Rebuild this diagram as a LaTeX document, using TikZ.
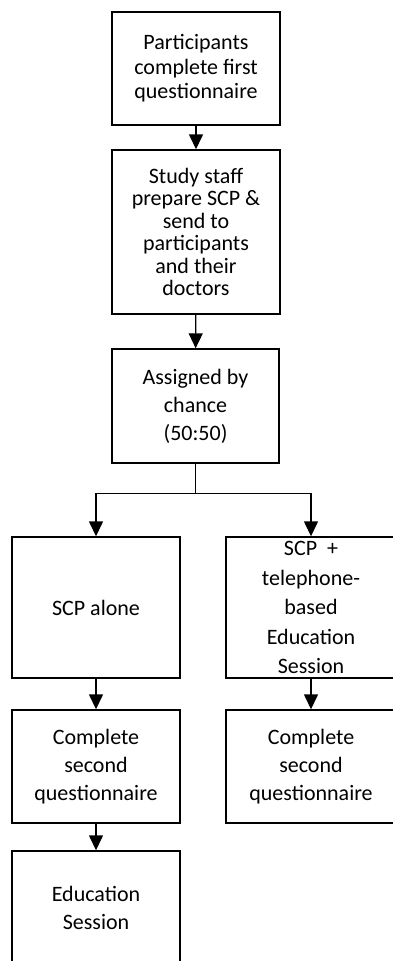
\documentclass[tikz,border=0pt]{standalone}
\usepackage{fontspec}
\setmainfont{Carlito}
\usetikzlibrary{arrows.meta}

\tikzset{
  box/.style={draw, line width=1.4pt, rectangle, align=center, inner sep=0pt,
    minimum width=168pt, font=\fontsize{22}{28}\selectfont},
  arr/.style={line width=1.4pt, -{Triangle[width=14pt,length=15pt]}}
}

\begin{document}
\begin{tikzpicture}[x=1pt,y=-1pt]
            % 画布范围
            \useasboundingbox (0,0) rectangle (392,961);

            % 定义点
            \coordinate (P1) at (196,68.5);
            \coordinate (P2) at (196,232);
            \coordinate (P3) at (195.5,406);
            \coordinate (P4) at (96,607.5);
            \coordinate (P5) at (311,607.5);
            \coordinate (P6) at (96,766.5);
            \coordinate (P7) at (311,766.5);
            \coordinate (P8) at (96,908);

            % 中间一列
            \node[box, minimum height=113pt, font=\fontsize{22}{24.5}\selectfont] (first) at (P1)
              {Participants\\complete first\\questionnaire};
            \node[box, minimum height=164pt, font=\fontsize{22}{22.5}\selectfont] (staff) at (P2)
              {Study staff\\prepare SCP \&\\send to\\participants\\and their\\doctors};
            \node[box, minimum width=167pt, minimum height=114pt] (chance) at (P3)
              {Assigned by\\chance\\(50:50)};

            % 左边一列
            \node[box, minimum height=141pt] (alone) at (P4) {SCP alone};
            \node[box, minimum height=113pt] (secondL) at (P6)
              {Complete\\second\\questionnaire};
            \node[box, minimum height=114pt] (edu) at (P8) {Education\\Session};

            % 右边一列 (右边框在画布外)
            \node[box, minimum width=170pt, minimum height=141pt, font=\fontsize{22}{29.5}\selectfont] (phone) at (P5)
              {SCP\ \ +\\telephone-\\based\\Education\\Session};
            \node[box, minimum width=170pt, minimum height=113pt] (secondR) at (P7)
              {Complete\\second\\questionnaire};

            % 箭头
            \draw[arr] (first) -- (staff);
            \draw[arr] (staff) -- (chance);
            \draw[line width=1.4pt] (chance.south) -- ++(0,30) coordinate (split);
            \draw[arr] (split) -| (alone.north);
            \draw[arr] (split) -| (phone.north);
            \draw[arr] (alone) -- (secondL);
            \draw[arr] (secondL) -- (edu);
            \draw[arr] (phone) -- (secondR);

        \end{tikzpicture}
\end{document}
